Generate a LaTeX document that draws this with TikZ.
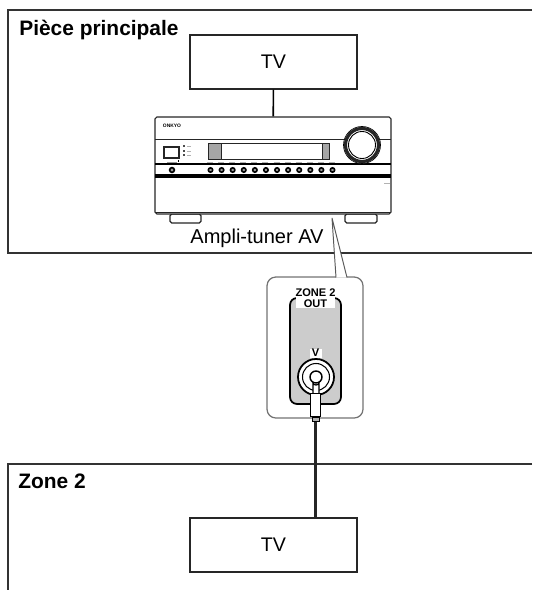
\documentclass[tikz,border=0pt]{standalone}
\usepackage{fontspec}
\setmainfont{Liberation Sans}
\tikzset{
    roomline/.style={draw=black!80, line width=0.75pt},
    tvbox/.style={draw=black!85, line width=0.6pt, fill=white, minimum width=3.34cm, minimum height=1.08cm, inner sep=0pt, font=\fontsize{11.2}{12}\selectfont},
    roomlabel/.style={anchor=base west, inner sep=0pt, font=\fontsize{11.9}{13}\selectfont\bfseries},
    amppart/.style={draw=black!85, line width=0.5pt},
    panellabel/.style={fill=white, inner sep=0pt, font=\fontsize{6.3}{6.2}\selectfont\bfseries, align=center},
}
\begin{document}
\begin{tikzpicture}[x=0.02cm, y=-0.02cm, >=stealth]
    \useasboundingbox (0,0) rectangle (532,591);

    \draw[roomline] (532,10) -- (8,10) -- (8,253) -- (532,253);
    \draw[roomline] (532,464) -- (8,464) -- (8,590);
    \node[roomlabel] (mainlabel) at (19,36) {Pièce principale};
    \node[roomlabel] (zonelabel) at (18,488) {Zone 2};

    \node[tvbox] (maintv) at (273.5,62) {TV};
    \node[tvbox] (zonetv) at (273.5,545) {TV};

    \draw[amppart, line width=0.7pt, fill=white, rounded corners=1pt] (170,214) rectangle (201,223);
    \draw[amppart, line width=0.7pt, fill=white, rounded corners=1pt] (345,214) rectangle (377,223);
    \node[amppart, line width=0.6pt, fill=white, rounded corners=1pt, minimum width=4.72cm, minimum height=1.94cm, inner sep=0pt] (amp) at (273,165.5) {};
    \draw[line width=0.9pt] (maintv) -- (amp);

    \draw[amppart] (155,139) -- (391,139);
    \draw[line width=0.7pt] (155,164) -- (391,164);
    \fill[black] (155,174.5) rectangle (391,178);
    \draw[amppart] (155,212) -- (391,212);

    \node[inner sep=0pt, font=\fontsize{2.8}{3}\selectfont\bfseries] (brand) at (172,125.5) {ONKYO};
    \draw[amppart, line width=0.9pt, fill=white] (164,147) rectangle (179,158);
    \draw[amppart, fill=black!35] (208,143) rectangle (329,159);
    \draw[amppart, fill=white] (221,143) rectangle (322,159);
    \foreach \ypos in {145,150,154} {
        \fill[black!70] (183,\ypos) rectangle (185,\ypos+2);
        \draw[black!30, line width=0.2pt] (187,\ypos+1) -- (191,\ypos+1);
    }
    \draw[black!40, line width=0.3pt] (167,162) -- (177,162);
    \fill[black] (178,160.5) rectangle (179,162.5);
    \foreach \xpos in {0,...,11} {
        \draw[black!30, line width=0.3pt] (207+\xpos*11.09,162) -- (213+\xpos*11.09,162);
        \draw[black, fill=black!40, line width=0.9pt] (210.5+\xpos*11.09,170) circle (2.2);
    }
    \draw[black, fill=black!40, line width=0.9pt] (172,170) circle (2.4);
    \draw[black!30, line width=0.3pt] (384,183.5) -- (390,183.5);

    \draw[black, line width=0.4pt, fill=white] (362,145) circle (18.5);
    \draw[black!85, line width=1.8pt] (362,145) circle (16.5);
    \draw[black, line width=0.5pt] (362,145) circle (13.5);

    \node[inner sep=0pt, anchor=base, font=\fontsize{11.4}{13}\selectfont] (amplabel) at (257,243) {Ampli-tuner AV};

    \node[draw=black!55, line width=0.7pt, fill=white, rounded corners=5pt, minimum width=1.92cm, minimum height=2.82cm, inner sep=0pt] (callout) at (315,347.5) {};
    \coordinate (wedgetip) at (332,218);
    \coordinate (wedgeleft) at (336,277.5);
    \coordinate (wedgeright) at (347,277.5);
    \fill[white] (wedgetip) -- (wedgeleft) -- (wedgeright) -- cycle;
    \draw[black!65, line width=0.55pt] (wedgeleft) -- (wedgetip) -- (wedgeright);

    \draw[black, line width=1pt, fill=black!20, rounded corners=4pt] (290,298) rectangle (341,404);
    \node[panellabel, minimum width=0.7cm, minimum height=0.34cm] (outlabel) at (315.5,298.5) {ZONE 2\\OUT};
    \node[panellabel, minimum width=0.24cm, minimum height=0.18cm] (vlabel) at (315.5,353) {V};

    \draw[black, line width=1pt, fill=white] (316,377) circle (18);
    \draw[black, line width=0.6pt] (316,377) circle (13.5);
    \draw[black, line width=0.8pt] (316,377) circle (6);

    \draw[black, line width=0.7pt, fill=white] (313,383) -- (313,394) -- (319,394) -- (319,383) arc[start angle=0, end angle=-180, x radius=3, y radius=-2] -- cycle;
    \node[draw=black, line width=0.8pt, fill=white, minimum width=0.2cm, minimum height=0.46cm, inner sep=0pt] (plug) at (315.7,405) {};
    \node[draw=black, line width=0.7pt, fill=black!30, minimum width=0.14cm, minimum height=0.08cm, inner sep=0pt, anchor=north] (plugend) at (plug.south) {};
    \draw[black!85, line width=1.5pt] (plugend.south) -- (plugend.south |- zonetv.north);
\end{tikzpicture}
\end{document}
